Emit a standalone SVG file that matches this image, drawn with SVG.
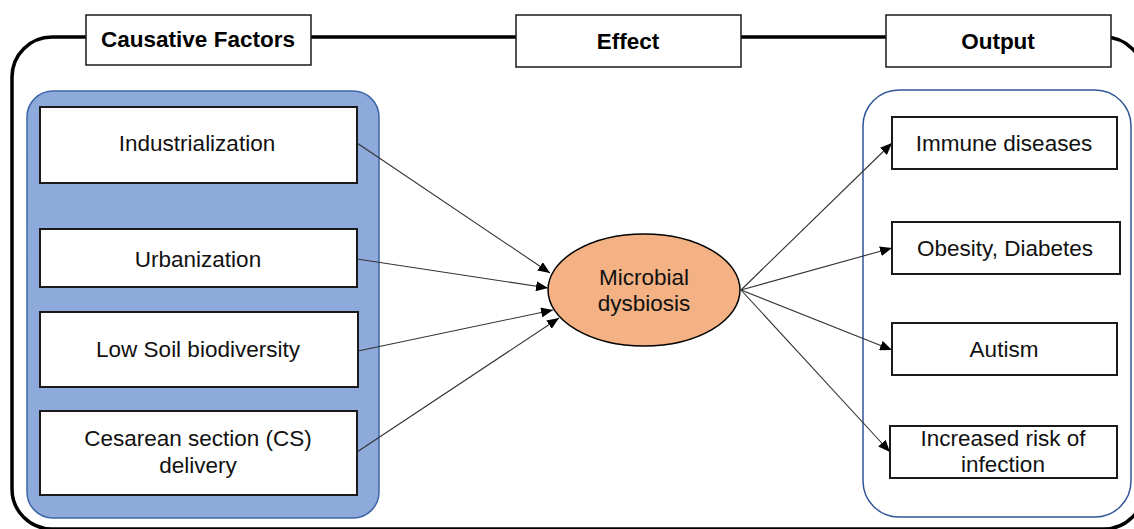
<svg xmlns="http://www.w3.org/2000/svg" width="1134" height="529" viewBox="0 0 1134 529">
<style>
.hdr{fill:#fff;stroke:#1a1a1a;stroke-width:1.5}
.box{fill:#fff;stroke:#1a1a1a;stroke-width:2}
.ht{font-family:"Liberation Sans",Arial,sans-serif;font-weight:bold;font-size:22.5px;fill:#000;text-anchor:middle}
.t{font-family:"Liberation Sans",Arial,sans-serif;font-size:22.5px;fill:#111;text-anchor:middle}
.con line{stroke:#333;stroke-width:1.1;marker-end:url(#ah)}
</style>
<defs>
<marker id="ah" viewBox="0 0 12 10" refX="12" refY="5" markerWidth="12" markerHeight="10" markerUnits="userSpaceOnUse" orient="auto">
<path d="M0,0 L12,5 L0,10 z" fill="#000"/>
</marker>
</defs>
<rect width="1134" height="529" fill="#fff"/>
<g id="frame">
<rect x="12" y="37" width="1132" height="492" rx="40" ry="40" fill="none" stroke="#000" stroke-width="3.5"/>
</g>
<g id="left-panel">
<rect x="27" y="91" width="352" height="427" rx="26" ry="26" fill="#8eaadb" stroke="#3e66a8" stroke-width="1.5"/>
</g>
<g id="right-panel">
<rect x="863" y="90" width="268" height="427" rx="36" ry="36" fill="#fff" stroke="#2f5597" stroke-width="1.5"/>
</g>
<g id="hdr-causative">
<rect class="hdr" x="86" y="15" width="225" height="50"/>
<text class="ht" x="198" y="47">Causative Factors</text>
</g>
<g id="hdr-effect">
<rect class="hdr" x="516" y="15" width="225" height="52"/>
<text class="ht" x="628" y="49">Effect</text>
</g>
<g id="hdr-output">
<rect class="hdr" x="886" y="15" width="225" height="52"/>
<text class="ht" x="998" y="49">Output</text>
</g>
<g id="industrialization">
<rect class="box" x="40" y="107" width="317" height="76"/>
<text class="t" x="197" y="151">Industrialization</text>
</g>
<g id="urbanization">
<rect class="box" x="40" y="229" width="317" height="58"/>
<text class="t" x="198" y="267">Urbanization</text>
</g>
<g id="low-soil">
<rect class="box" x="40" y="312" width="318" height="75"/>
<text class="t" x="198" y="357">Low Soil biodiversity</text>
</g>
<g id="cesarean">
<rect class="box" x="40" y="411" width="317" height="84"/>
<text class="t" x="198" y="446">Cesarean section (CS)</text>
<text class="t" x="198" y="473">delivery</text>
</g>
<g id="microbial-dysbiosis">
<ellipse cx="644" cy="290" rx="96" ry="56" fill="#f4b183" stroke="#000" stroke-width="1.5"/>
<text class="t" x="644" y="285">Microbial</text>
<text class="t" x="644" y="311">dysbiosis</text>
</g>
<g id="immune">
<rect class="box" x="892" y="117" width="225" height="52"/>
<text class="t" x="1004" y="151">Immune diseases</text>
</g>
<g id="obesity">
<rect class="box" x="892" y="222" width="228" height="52"/>
<text class="t" x="1005" y="256">Obesity, Diabetes</text>
</g>
<g id="autism">
<rect class="box" x="892" y="323" width="225" height="52"/>
<text class="t" x="1004" y="357">Autism</text>
</g>
<g id="infection">
<rect class="box" x="890" y="426" width="227" height="52"/>
<text class="t" x="1003" y="446">Increased risk of</text>
<text class="t" x="1003" y="472">infection</text>
</g>
<g class="con" id="connectors">
<line x1="357" y1="143" x2="550" y2="273"/>
<line x1="357" y1="259" x2="548" y2="288"/>
<line x1="358" y1="351" x2="553" y2="310"/>
<line x1="357" y1="452" x2="559" y2="318"/>
<line x1="741" y1="290" x2="892" y2="143"/>
<line x1="741" y1="290" x2="892" y2="248"/>
<line x1="741" y1="290" x2="892" y2="350"/>
<line x1="741" y1="290" x2="890" y2="452"/>
</g>
</svg>
